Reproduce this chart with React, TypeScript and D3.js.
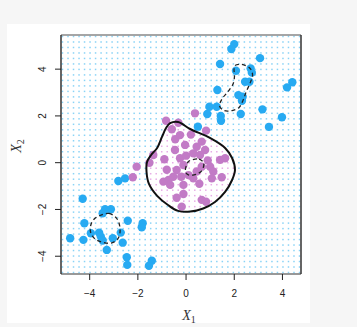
import React from "react";
import * as d3 from "d3";

const W = 357, H = 327;

const blueX = [2.00,1.88,3.07,1.41,2.07,2.68,2.73,2.45,2.63,4.41,4.19,1.30,2.17,2.35,2.32,0.97,1.27,3.17,0.88,1.44,1.45,2.27,3.98,3.44,0.49,
  -2.81,-2.53,-4.29,-3.36,-3.12,-3.46,-4.22,-2.42,-1.80,-1.84,-3.95,-3.61,-3.54,-3.46,-4.81,-4.26,-3.04,-2.71,-2.63,-3.29,-2.46,-2.44,-1.42,-1.54];
const blueY = [5.07,4.86,4.47,4.22,3.93,4.03,3.85,3.46,3.46,3.44,3.22,3.11,2.89,2.82,2.65,2.39,2.39,2.28,2.08,2.00,1.79,2.08,1.94,1.53,1.54,
  -0.78,-0.67,-1.54,-1.99,-1.99,-2.16,-2.59,-2.48,-2.59,-2.76,-3.02,-2.99,-3.16,-3.33,-3.23,-3.30,-3.23,-2.99,-3.42,-3.73,-4.04,-4.37,-4.19,-4.41];

const purpleX = [-0.83,-0.32,-0.59,-0.25,0.83,0.37,-1.52,-1.36,-2.05,-2.21,-0.04,0.44,0.65,0.79,0.30,0.58,1.41,1.62,-0.25,-0.11,-0.39,-0.53,-0.73,-0.66,-0.94,0.10,0.44,0.65,1.00,1.13,1.07,1.48,-0.11,-0.39,-0.11,-0.18,0.65,0.83,-0.46,0.30,-0.80,0.00,0.90,-0.20,0.55,-0.45,-0.90,0.20];
const purpleY = [1.79,1.71,1.43,1.18,1.37,2.11,0.00,0.33,-0.17,-0.62,0.76,0.68,0.90,0.54,0.40,0.33,0.12,0.19,0.19,-0.10,-0.31,-0.60,-0.74,-0.95,-0.81,-0.53,-0.38,-0.17,-0.17,-0.38,-0.67,-0.62,-0.95,-1.50,-1.34,-1.88,-1.59,-1.67,0.54,-0.67,-0.30,0.30,0.10,-0.60,-0.90,1.00,0.15,1.20];

// fitted decision boundary (solid)
const fitX = [-0.66,-0.33,0.17,0.99,1.62,1.91,2.03,1.91,1.62,1.20,0.71,0.17,-0.33,-0.75,-1.20,-1.54,-1.64,-1.62,-1.45,-1.20,-1.00,-0.83];
const fitY = [1.69,1.74,1.44,1.06,0.63,0.20,-0.31,-0.74,-1.25,-1.68,-1.96,-2.09,-2.06,-1.81,-1.42,-0.91,-0.40,0.03,0.33,0.63,1.10,1.48];

// Bayes boundaries (dashed)
const bayesUpX = [2.03,2.32,2.66,2.76,2.66,2.49,2.37,2.20,1.91,1.58,1.39,1.49,1.74,1.95,2.01,1.99];
const bayesUpY = [4.15,4.20,4.03,3.75,3.41,3.02,2.68,2.36,2.23,2.23,2.42,2.72,3.04,3.36,3.71,4.00];
const bayesLowX = [-3.53,-3.20,-2.88,-2.74,-2.81,-3.08,-3.44,-3.78,-3.96,-3.94,-3.78];
const bayesLowY = [-2.24,-2.17,-2.38,-2.81,-3.22,-3.43,-3.41,-3.26,-2.98,-2.62,-2.38];
const bayesMidX = [0.24,0.54,0.73,0.66,0.41,0.12,-0.02,0.00,0.10];
const bayesMidY = [0.12,0.15,-0.01,-0.33,-0.50,-0.53,-0.40,-0.16,0.05];

const xTicks = [-4, -2, 0, 2, 4];
const yTicks = [-4, -2, 0, 2, 4];

const L = 61, R = 301, T = 35, B = 274;

export default function App() {
  const x = d3.scaleLinear().domain([-5.19, 4.77]).range([L, R]);
  const y = d3.scaleLinear().domain([-4.76, 5.46]).range([B, T]);

  const zip = (xs: number[], ys: number[]) => xs.map((v, i) => [v, ys[i]] as [number, number]);
  const closed = d3.line<[number, number]>().x(d => x(d[0])).y(d => y(d[1])).curve(d3.curveCatmullRomClosed.alpha(0.5));

  const fitPoly = zip(fitX, fitY);
  const nG = 44;
  const gx = d3.range(nG).map(i => L + 1.5 + i * ((R - L - 3) / (nG - 1)));
  const gy = d3.range(nG).map(j => T + 1.5 + j * ((B - T - 3) / (nG - 1)));
  const grid: { px: number; py: number; inside: boolean }[] = [];
  gx.forEach(px => gy.forEach(py => {
    const inside = d3.polygonContains(fitPoly, [x.invert(px), y.invert(py)]);
    grid.push({ px, py, inside });
  }));

  return (
    <svg width={W} height={H} style={{ position: "absolute", left: 0, top: 0 }}>
      <rect x={0} y={0} width={W} height={H} fill="#f6f6f6" />
      <rect x={7} y={24} width={303} height={299} fill="#ffffff" />
      {grid.map((g, i) => (
        <rect key={i} x={g.px - 0.75} y={g.py - 0.75} width={1.5} height={1.5}
          fill={g.inside ? "#e6acE6" : "#8ad3f6"} />
      ))}
      {zip(blueX, blueY).map((d, i) => (
        <circle key={"b" + i} cx={x(d[0])} cy={y(d[1])} r={4.2} fill="#27aaf2" />
      ))}
      {zip(purpleX, purpleY).map((d, i) => (
        <circle key={"p" + i} cx={x(d[0])} cy={y(d[1])} r={4.2} fill="#c27bc6" />
      ))}
      <path d={closed(fitPoly) || ""} fill="none" stroke="#111" strokeWidth={2} />
      {[zip(bayesUpX, bayesUpY), zip(bayesLowX, bayesLowY), zip(bayesMidX, bayesMidY)].map((p, i) => (
        <path key={"d" + i} d={closed(p) || ""} fill="none" stroke="#222" strokeWidth={1.3} strokeDasharray="4,3" />
      ))}
      {/* frame */}
      <line x1={L} y1={T} x2={R} y2={T} stroke="#888" strokeWidth={1.5} />
      <line x1={L} y1={B} x2={R} y2={B} stroke="#777" strokeWidth={1.5} />
      <line x1={L} y1={T} x2={L} y2={B} stroke="#333" strokeWidth={1.5} />
      <line x1={R} y1={T} x2={R} y2={B} stroke="#333" strokeWidth={1.5} />
      {xTicks.map(t => (
        <g key={"xt" + t}>
          <line x1={x(t)} x2={x(t)} y1={B} y2={B + 6} stroke="#222" strokeWidth={1} />
          <text x={x(t)} y={297} textAnchor="middle" fontFamily="Liberation Sans, Arial, sans-serif" fontSize={10} fill="#222">
            {t < 0 ? "\u2212" + Math.abs(t) : String(t)}
          </text>
        </g>
      ))}
      {yTicks.map(t => (
        <g key={"yt" + t}>
          <line x1={L - 6} x2={L} y1={y(t)} y2={y(t)} stroke="#222" strokeWidth={1} />
          <text transform={`translate(45.5,${y(t)}) rotate(-90)`} textAnchor="middle" fontFamily="Liberation Sans, Arial, sans-serif" fontSize={10} fill="#222">
            {t < 0 ? "\u2212" + Math.abs(t) : String(t)}
          </text>
        </g>
      ))}
      <text x={189} y={320} textAnchor="middle" fontFamily="Liberation Serif, DejaVu Serif, serif" fontStyle="italic" fontSize={14} fill="#333">
        X<tspan fontSize={10} dy={3} fontStyle="normal">1</tspan>
      </text>
      <text transform="translate(21,146) rotate(-90)" textAnchor="middle" fontFamily="Liberation Serif, DejaVu Serif, serif" fontStyle="italic" fontSize={14} fill="#333">
        X<tspan fontSize={10} dy={3} fontStyle="normal">2</tspan>
      </text>
    </svg>
  );
}
